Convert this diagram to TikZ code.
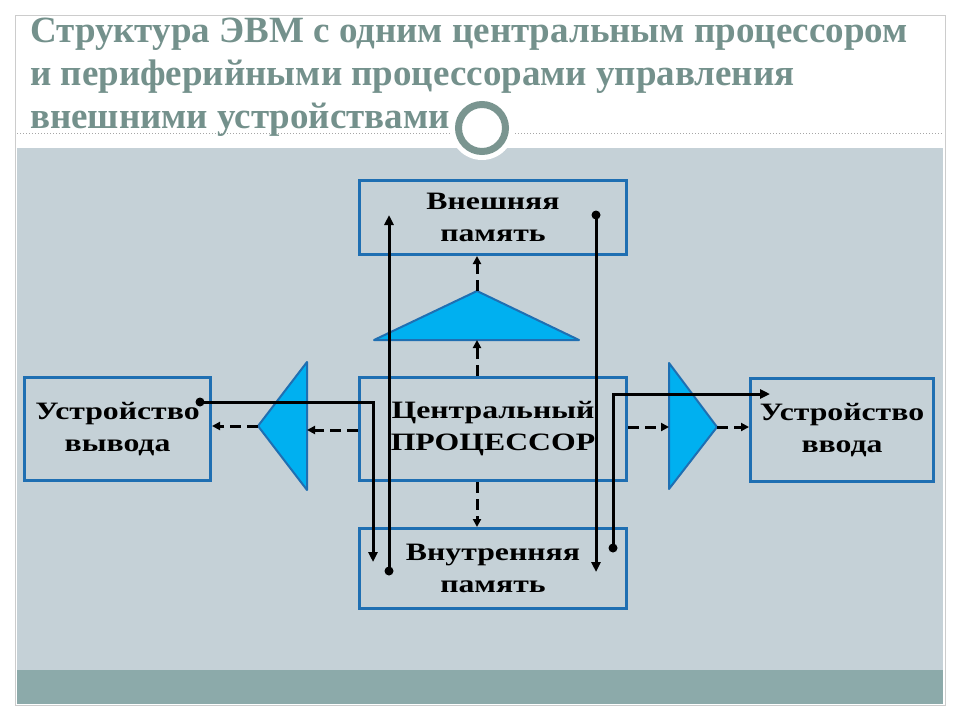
\documentclass[tikz,border=0pt]{standalone}
\usepackage{fontspec}
\setmainfont{Liberation Serif}
\newfontfamily\titlefont[FakeStretch=1.0]{Liberation Serif}
\newfontfamily\boxfont[FakeStretch=1.27]{Liberation Serif}
\usetikzlibrary{arrows.meta}
\definecolor{bgGray}{RGB}{197,209,215}
\definecolor{bandTeal}{RGB}{140,170,170}
\definecolor{titleCol}{RGB}{116,145,140}
\definecolor{boxBlue}{RGB}{31,111,178}
\definecolor{triFill}{RGB}{0,176,240}
\definecolor{ringGray}{RGB}{122,149,144}
\tikzset{
  box/.style={draw=boxBlue, line width=3pt, fill=none, align=center,
    font=\boxfont\fontsize{25}{32}\selectfont\bfseries},
  tri/.style={fill=triFill, draw=boxBlue, line width=2pt, line join=round},
  dflow/.style={line width=3pt, dash pattern=on 11pt off 6pt, -{Triangle[length=8pt,width=8pt]}},
  sflow/.style={line width=3pt, -{Triangle[length=10pt,width=9pt]}},
  dotmark/.style={circle, fill=black, inner sep=0pt, minimum size=9pt},
  ttl/.style={anchor=base west, inner sep=0pt, text=titleCol,
    font=\titlefont\fontsize{37}{44}\selectfont\bfseries}
}
\begin{document}
\begin{tikzpicture}[x=1pt,y=-1pt]
\useasboundingbox (0,0) rectangle (960,720);
\fill[white] (0,0) rectangle (960,720);
\draw[gray!40, line width=1pt] (15,15) rectangle (945,705);
\fill[bgGray] (17,148) rectangle (943,670);
\fill[bandTeal] (17,670) rectangle (943,704);
\draw[gray!70, line width=1pt, dotted] (17,133) -- (943,133);
% title
\node[ttl] (t1) at (30,42) {Структура ЭВМ с одним центральным процессором};
\node[ttl] (t2) at (30,85) {и периферийными процессорами управления};
\node[ttl] (t3) at (30,128) {внешними устройствами};
% circle ornament
\fill[white] (482,128) circle (32);
\draw[ringGray, line width=7pt, fill=white] (482,128) circle (23.5);
% boxes
\node[box, minimum width=267, minimum height=74] (ext) at (493,217.5) {Внешняя\\память};
\node[box, minimum width=267, minimum height=103] (cpu) at (493,429) {Центральный\\ПРОЦЕССОР};
\node[box, minimum width=267, minimum height=80] (int) at (493,568.5) {Внутренняя\\память};
\node[box, minimum width=186, minimum height=103] (out) at (117.5,429) {Устройство\\вывода};
\node[box, minimum width=183, minimum height=103] (in) at (842,430) {Устройство\\ввода};
% triangles
\coordinate (tApex) at (477,291);
\coordinate (tBase) at (477,340);
\fill[tri] (tApex) -- (579,340) -- (374,340) -- cycle;
\coordinate (lApex) at (258,426);
\coordinate (lBase) at (307,430);
\fill[tri] (lApex) -- (307,362) -- (307,490) -- cycle;
\coordinate (rApex) at (717,427);
\coordinate (rBase) at (669,427);
\fill[tri] (rApex) -- (669,363) -- (669,489) -- cycle;
% dashed flows
\draw[dflow] (cpu.north -| tBase) -- (tBase);
\draw[dflow] (tApex) -- (ext.south -| tApex);
\draw[dflow] (cpu.south -| tBase) -- (int.north -| tBase);
\draw[dflow] (cpu.west |- lBase) -- (lBase);
\draw[dflow] (lApex) -- (out.east |- lApex);
\draw[dflow] (cpu.east |- rBase) -- (rBase);
\draw[dflow] (rApex) -- (in.west |- rApex);
% solid flows
\node[dotmark] (d1) at (200,402) {};
\coordinate (a1) at (373,562);
\draw[sflow] (d1.center) -| (a1);
\node[dotmark] (d2) at (389,571) {};
\coordinate (a2) at (389,215);
\draw[sflow] (d2.center) -- (a2);
\node[dotmark] (d3) at (596,215) {};
\coordinate (a3) at (596,572);
\draw[sflow] (d3.center) -- (a3);
\node[dotmark] (d4) at (613,548) {};
\coordinate (a4) at (770,394);
\draw[sflow] (d4.center) |- (a4);
\end{tikzpicture}
\end{document}
